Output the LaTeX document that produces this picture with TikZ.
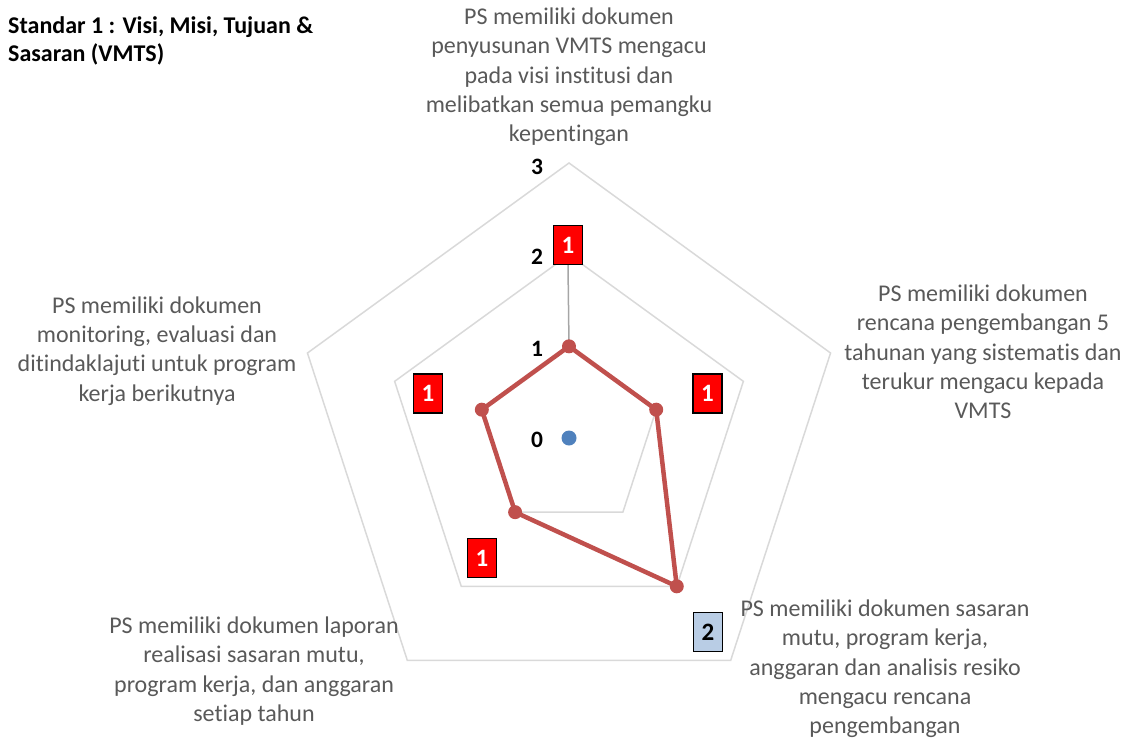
\documentclass[tikz,border=0pt]{standalone}
\usepackage{fontspec}
\setmainfont{Carlito}[Ligatures=NoCommon]
\usetikzlibrary{calc}
\definecolor{gridc}{HTML}{D9D9D9}
\definecolor{serred}{HTML}{C0504D}
\definecolor{serblue}{HTML}{4F81BD}
\definecolor{labgray}{HTML}{595959}
\definecolor{boxblue}{HTML}{B9CDE5}
\definecolor{leadc}{HTML}{A6A6A6}
\begin{document}
\begin{tikzpicture}[x=1pt,y=-1pt,
  cat/.style={font=\fontsize{24}{29.3}\selectfont, text=labgray, align=center, inner sep=0pt},
  axlab/.style={font=\fontsize{23.5}{28}\selectfont\bfseries, inner sep=0pt},
  dlab/.style={draw=black, line width=1.3pt, fill=red, text=white, font=\fontsize{25}{28}\selectfont\bfseries, minimum width=29pt, minimum height=39pt, inner sep=0pt},
  dlabb/.style={dlab, fill=boxblue, text=black},
  gridline/.style={draw=gridc, line width=1.5pt},
  serline/.style={draw=serred, line width=4.5pt, line join=round},
  leaderline/.style={draw=leadc, line width=1.5pt}]
\useasboundingbox (0,0) rectangle (1124,742);
\coordinate (C) at (569,438);
\foreach \l in {1,2,3}{
  \foreach \i/\a in {1/-90,2/-18,3/54,4/126,5/198}{
    \coordinate (v\l-\i) at ({569+\l*91.67*cos(\a)},{438+\l*91.67*sin(\a)});
  }
  \draw[gridline] (v\l-1) -- (v\l-2) -- (v\l-3) -- (v\l-4) -- (v\l-5) -- cycle;
}
% title
\node[font=\fontsize{24}{28}\selectfont\bfseries, align=left, anchor=west, inner sep=0pt] (title) at (8,41) {Standar 1 : Visi, Misi, Tujuan \&\\Sasaran (VMTS)};
% axis numbers
\node[axlab] (a3) at (537,167) {3};
\node[axlab] (a2) at (537,257) {2};
\node[axlab] (a1) at (537,349) {1};
\node[axlab] (a0) at (537,440) {0};
% data labels
\node[dlab] (d1) at (568,245) {1};
\node[dlab] (d2) at (707.5,393.5) {1};
\node[dlabb] (d3) at (708,632) {2};
\node[dlab] (d4) at (482,558) {1};
\node[dlab] (d5) at (428,393.5) {1};
% leader line
\draw[leaderline] (d1.south) -- (v1-1);
% series
\draw[serline] (v1-1) -- (v1-2) -- (v2-3) -- (v1-4) -- (v1-5) -- cycle;
\foreach \p in {v1-1,v1-2,v2-3,v1-4,v1-5}{
  \fill[serred] (\p) circle (7);
}
\fill[serblue] (C) circle (7.5);
% category labels
\node[cat] (c1) at (569,77) {PS memiliki dokumen\\penyusunan VMTS mengacu\\pada visi institusi dan\\melibatkan semua pemangku\\kepentingan};
\node[cat] (c2) at (983,352) {PS memiliki dokumen\\rencana pengembangan 5\\tahunan yang sistematis dan\\terukur mengacu kepada\\VMTS};
\node[cat] (c3) at (885,669) {PS memiliki dokumen sasaran\\mutu, program kerja,\\anggaran dan analisis resiko\\mengacu rencana\\pengembangan};
\node[cat] (c4) at (254,671) {PS memiliki dokumen laporan\\realisasi sasaran mutu,\\program kerja, dan anggaran\\setiap tahun};
\node[cat] (c5) at (157,351) {PS memiliki dokumen\\monitoring, evaluasi dan\\ditindaklajuti untuk program\\kerja berikutnya};
\end{tikzpicture}
\end{document}
